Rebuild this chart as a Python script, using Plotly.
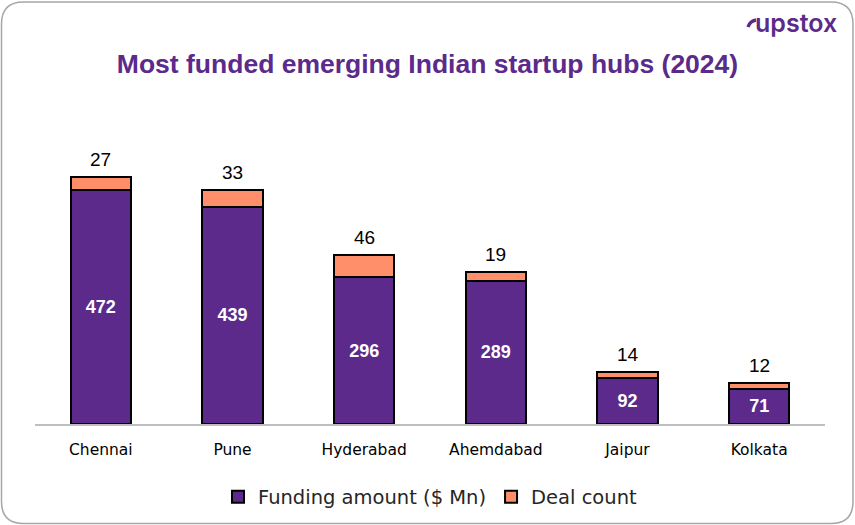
import plotly.graph_objects as go

cities = ["Chennai", "Pune", "Hyderabad", "Ahemdabad", "Jaipur", "Kolkata"]
funding = [472, 439, 296, 289, 92, 71]
deals = [27, 33, 46, 19, 14, 12]

PURPLE = "#5B2A8A"
SALMON = "#FF8F6B"
W, H = 855, 525
ML, MR, MT, MB = 35, 30, 127, 101
YMAX = 600

def px(x):
    return (x - ML) / (W - ML - MR)

def py(y):
    return (H - MB - y) / (H - MT - MB)

fig = go.Figure()
fig.add_trace(go.Bar(
    x=cities, y=funding, name="Funding amount ($ Mn)",
    marker=dict(color=PURPLE, line=dict(color="#000000", width=2)),
    text=[f"<b>{v}</b>" for v in funding], textposition="inside",
    insidetextanchor="middle", textangle=0, constraintext="none",
    textfont=dict(color="white", size=18, family="Liberation Sans"),
))
fig.add_trace(go.Bar(
    x=cities, y=deals, name="Deal count",
    marker=dict(color=SALMON, line=dict(color="#000000", width=2)),
    textposition="none",
))

for c, f, d in zip(cities, funding, deals):
    fig.add_annotation(x=c, y=f + d, text=str(d), showarrow=False,
                       yanchor="bottom", yshift=5,
                       font=dict(size=19, color="#000000", family="Liberation Sans"))

# rounded border
x0, x1 = px(1.5), px(853)
y0, y1 = py(523.5), py(2)
rx = 22 / (W - ML - MR)
ry = 22 / (H - MT - MB)
path = (f"M {x0+rx},{y1} L {x1-rx},{y1} Q {x1},{y1} {x1},{y1-ry} "
        f"L {x1},{y0+ry} Q {x1},{y0} {x1-rx},{y0} "
        f"L {x0+rx},{y0} Q {x0},{y0} {x0},{y0+ry} "
        f"L {x0},{y1-ry} Q {x0},{y1} {x0+rx},{y1} Z")
fig.add_shape(type="path", path=path, xref="paper", yref="paper",
              line=dict(color="#A6A6A6", width=1.5), layer="below")

# logo
fig.add_annotation(x=px(796), y=py(23), xref="paper", yref="paper",
                   xanchor="center", yanchor="middle",
                   text="upstox", showarrow=False,
                   font=dict(size=25, color=PURPLE, family="Inter", weight=600))
fig.add_shape(type="path", xref="paper", yref="paper",
              path=f"M {px(748)},{py(27)} Q {px(750)},{py(21)} {px(756)},{py(20)}",
              line=dict(color=PURPLE, width=3.5))

fig.update_layout(
    width=W, height=H,
    margin=dict(l=ML, r=MR, t=MT, b=MB, autoexpand=False),
    paper_bgcolor="white", plot_bgcolor="white",
    barmode="stack", bargap=0.54,
    title=dict(text="<b>Most funded emerging Indian startup hubs (2024)</b>",
               x=0.5, xanchor="center", y=1 - 64 / H, yanchor="middle",
               font=dict(size=26.5, color=PURPLE, family="Liberation Sans")),
    showlegend=True,
    legend=dict(orientation="h", x=0.5, xanchor="center",
                yref="container", y=1 - 497 / H, yanchor="middle",
                font=dict(size=19.5, color="#262626", family="DejaVu Sans"),
                traceorder="normal", itemwidth=30),
    xaxis=dict(showline=True, linecolor="#BFBFBF", linewidth=1.5, automargin=False,
               showgrid=False, ticks="", ticklabelstandoff=11,
               tickfont=dict(size=15.5, color="#000000", family="DejaVu Sans")),
    yaxis=dict(range=[0, YMAX], visible=False, showgrid=False, automargin=False),
)

fig.write_html("out.html", config={"displayModeBar": False},
               post_script="document.body.style.margin='0';document.body.style.overflow='hidden';")
